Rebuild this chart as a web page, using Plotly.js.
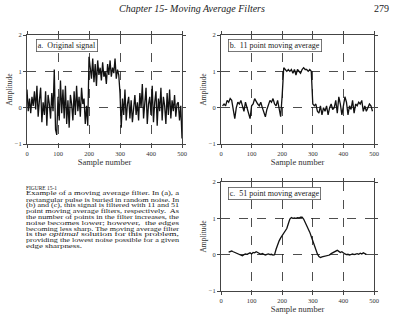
<!DOCTYPE html>
<html><head><meta charset="utf-8">
<script src="https://cdn.plot.ly/plotly-3.0.1.min.js"></script>
<style>html,body{margin:0;padding:0;background:#fff}#chart{width:400px;height:320px}</style>
</head><body><div id="chart"></div>
<script>
// Panel a: original signal, samples 0..500 every 4
const origStart = 0, origStep = 4;
const origValues = [
 0.5,-0.1,0.25,-0.15,0.3,0.05,0.45,-0.05,0.6,-0.25,0.2,0.55,-0.4,0.15,-0.2,0.45,-0.5,0.35,0.1,-0.3,
 0.4,-0.1,1.05,-0.6,-0.75,0.3,-0.35,0.75,-0.15,0.5,-0.3,0.6,-0.45,0.2,-0.55,0.35,0.1,-0.35,0.45,-0.2,
 0.6,-0.1,0.3,-0.25,0.55,0.1,0.25,-0.45,0.05,-0.5,
 1.4,1.1,0.8,1.35,0.7,1.2,0.6,1.3,0.9,1.1,0.75,1.25,0.85,1.0,0.65,1.2,0.9,1.3,0.85,1.1,0.95,1.35,0.8,1.05,0.9,
 0.4,-0.55,0.25,-0.2,0.5,-0.35,0.1,0.3,-0.3,0.2,-0.4,0.05,0.35,-0.2,0.15,-0.35,0.4,0.0,0.65,-0.3,
 0.2,0.55,-0.45,0.1,0.3,-0.2,0.6,-0.4,0.15,0.45,-0.5,0.25,-0.1,0.55,-0.35,0.3,0.05,-0.45,0.4,-0.2,
 0.5,-0.3,0.2,-0.1,0.35,-0.25,0.1,0.15,-0.35,0.05,-0.85];
// Panel b: 11 point moving average, samples 5..495 every 5
const ma11Start = 5, ma11Step = 5;
const ma11Values = [
 0.05,0.1,0.05,0.2,0.15,0.25,0.2,-0.05,-0.3,0.0,0.15,0.1,0.2,0.05,-0.1,0.15,0.0,-0.1,-0.3,0.05,
 0.1,0.25,0.15,0.1,0.05,0.15,0.0,-0.1,-0.25,-0.05,0.05,0.2,0.15,0.25,0.1,0.05,0.2,-0.05,-0.25,0.35,
 1.1,1.05,1.0,1.05,1.0,1.05,0.95,1.05,0.9,1.05,1.0,0.95,1.05,1.1,1.05,1.05,1.0,1.05,1.0,0.1,
 0.05,0.1,-0.1,-0.15,0.05,-0.2,0.0,-0.1,0.05,-0.2,0.0,0.1,-0.05,0.0,0.2,-0.15,0.3,0.1,-0.2,0.1,
 0.3,0.15,-0.2,0.05,-0.05,0.2,-0.15,0.1,0.05,0.15,0.1,0.2,-0.1,0.05,-0.1,0.0,0.1,0.05,-0.1];
// Panel c: 51 point moving average, samples 25..475 every 5
const ma51Start = 25, ma51Step = 5;
const ma51Values = [
 0.07,0.08,0.1,0.08,0.06,0.03,0.02,0.0,-0.02,-0.03,0.0,0.02,0.01,0.03,0.05,0.02,0.06,0.05,0.08,0.06,
 0.04,0.01,0.03,0.02,-0.01,0.01,0.02,0.0,0.01,-0.01,0.0,0.15,0.28,0.38,0.46,0.52,0.58,0.66,0.72,0.85,
 0.98,1.02,1.0,1.01,1.0,1.02,1.01,1.03,1.03,0.98,0.9,0.82,0.72,0.62,0.5,0.38,0.25,0.12,0.02,-0.05,
 -0.08,-0.06,-0.05,-0.04,-0.02,0.0,-0.01,0.03,0.05,0.07,0.1,0.12,0.09,0.06,0.08,0.04,0.02,0.0,0.01,-0.01,
 0.0,0.02,0.0,0.01,0.03,0.01,0.04,0.02,0.05,0.03,0.01];
const panelLabels = ["a.  Original signal","b.  11 point moving average","c.  51 point moving average"];
const xTicks = [0,100,200,300,400,500];
const yTicks = [-1,0,1,2];
const captionLines = [
 "FIGURE 15-1",
 "Example of a moving average filter. In (a), a",
 "rectangular pulse is buried in random noise. In",
 "(b) and (c), this signal is filtered with 11 and 51",
 "point moving average filters, respectively.  As",
 "the number of points in the filter increases, the",
 "noise becomes lower; however,  the edges",
 "becoming less sharp. The moving average filter",
 "is the <i>optimal</i> solution for this problem,",
 "providing the lowest noise possible for a given",
 "edge sharpness."];

const W = 400, H = 320;
const idx = (start, step, vals) => vals.map((_, i) => start + i * step);
const px = v => v / W, py = v => 1 - v / H;

function trace(xs, ys, n) {
  return {x: xs, y: ys, xaxis: 'x' + (n === 1 ? '' : n), yaxis: 'y' + (n === 1 ? '' : n),
    type: 'scatter', mode: 'lines', line: {color: '#111', width: 1.3}, hoverinfo: 'skip'};
}
const data = [
  trace(idx(origStart, origStep, origValues), origValues, 1),
  trace(idx(ma11Start, ma11Step, ma11Values), ma11Values, 2),
  trace(idx(ma51Start, ma51Step, ma51Values), ma51Values, 3)
];

const tickFont = {family: 'Liberation Serif', size: 6.5, color: '#333'};
function xax(d, anchor) {
  return {domain: d, anchor: anchor, range: [0, 500], tickvals: xTicks, ticks: 'outside', ticklen: 3,
    tickcolor: '#444', showline: true, linecolor: '#444', linewidth: 1, mirror: 'ticks',
    showgrid: true, gridcolor: '#222', griddash: 'dash', gridwidth: 0.8, zeroline: false,
    tickfont: tickFont, title: {text: 'Sample number', font: {family: 'Liberation Serif', size: 8.5, color: '#333'}, standoff: 3}};
}
function yax(d, anchor) {
  return {domain: d, anchor: anchor, range: [-1, 2], tickvals: yTicks, ticks: 'outside', ticklen: 3,
    tickcolor: '#444', showline: true, linecolor: '#444', linewidth: 1, mirror: 'ticks',
    showgrid: true, gridcolor: '#222', griddash: 'dash', gridwidth: 0.8, zeroline: false,
    tickfont: tickFont, title: {text: 'Amplitude', font: {family: 'Liberation Serif', size: 7.5, color: '#333'}, standoff: 1}};
}
const xa = [px(27), px(182)], xb = [px(221), px(374)];
const yab = [py(144), py(35)], yc = [py(291), py(182)];

const annotations = [
  {text: '<i>Chapter 15- Moving Average Filters</i>', x: px(192), y: py(8), xref: 'paper', yref: 'paper',
   showarrow: false, xanchor: 'center', yanchor: 'middle', font: {family: 'Liberation Serif', size: 10, color: '#222'}},
  {text: '279', x: px(391), y: py(8), xref: 'paper', yref: 'paper', showarrow: false, xanchor: 'right',
   yanchor: 'middle', font: {family: 'Liberation Serif', size: 10, color: '#222'}},
];
const boxPos = [[36, 45.5], [228, 45.5], [228, 193.5]];
panelLabels.forEach((t, i) => annotations.push({text: t, x: px(boxPos[i][0]), y: py(boxPos[i][1]),
  xref: 'paper', yref: 'paper', showarrow: false, xanchor: 'left', yanchor: 'middle',
  bgcolor: '#fff', bordercolor: '#555', borderwidth: 0.8, borderpad: 1,
  font: {family: 'Liberation Serif', size: 8, color: '#222'}}));
const captionBase = annotations.length;
captionLines.forEach((t, i) => annotations.push({text: t, x: px(24), y: py(188 + i * 5.8),
  xref: 'paper', yref: 'paper', showarrow: false, xanchor: 'left', yanchor: 'middle', align: 'left',
  font: {family: 'Liberation Serif', size: 6, color: '#222'}}));

const layout = {
  width: W, height: H, margin: {l: 0, r: 0, t: 0, b: 0}, showlegend: false,
  paper_bgcolor: '#fff', plot_bgcolor: '#fff', font: {family: 'Liberation Serif'},
  xaxis: xax(xa, 'y'), yaxis: yax(yab, 'x'),
  xaxis2: xax(xb, 'y2'), yaxis2: yax(yab, 'x2'),
  xaxis3: xax(xb, 'y3'), yaxis3: yax(yc, 'x3'),
  annotations: annotations
};
// justified caption widths (px) as in the printed page
const captionWidths = [31, 153, 153, 153, 153, 153, 153, 153, 153, 153, 56];
Plotly.newPlot('chart', data, layout, {staticPlot: true, displayModeBar: false}).then(gd => {
  captionWidths.forEach((w, i) => {
    const el = gd.querySelector('.annotation[data-index="' + (captionBase + i) + '"] text.annotation-text');
    if (el) { el.setAttribute('textLength', w); el.setAttribute('lengthAdjust', 'spacingAndGlyphs'); }
  });
});
</script></body></html>
